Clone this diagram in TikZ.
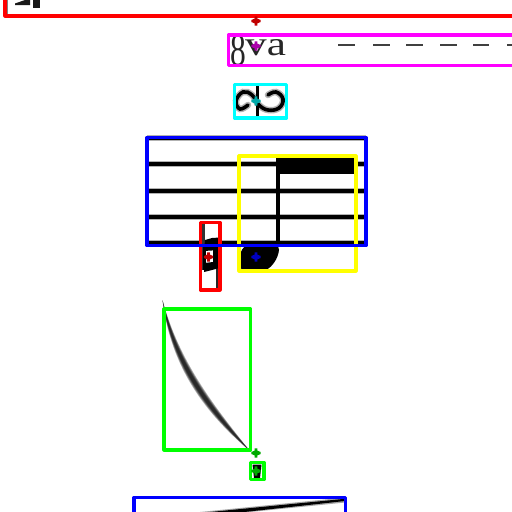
\documentclass[tikz,border=0pt]{standalone}
\usepackage{fontspec}
\setmainfont{Liberation Serif}
\definecolor{mgreen}{RGB}{0,255,0}
\definecolor{mblue}{RGB}{0,0,255}
\definecolor{mred}{RGB}{255,0,0}
\definecolor{mmag}{RGB}{255,0,255}
\definecolor{mcyan}{RGB}{0,255,255}
\definecolor{myel}{RGB}{255,255,0}
\definecolor{kred}{RGB}{192,0,0}
\definecolor{kmag}{RGB}{170,0,170}
\definecolor{kteal}{RGB}{0,170,170}
\definecolor{kblue}{RGB}{0,0,192}
\definecolor{kgreen}{RGB}{0,170,0}
\tikzset{
  bbox/.style={draw=#1,line width=3.2pt,line join=round},
  halo/.style={draw=black!30,line width=6.5pt},
  ink/.style={draw=black,line width=3.6pt},
  dashmark/.style={draw=black!75,line width=2.4pt},
  scoretext/.style={inner sep=0pt,text=black!85,font=\fontsize{42}{42}\selectfont},
}
\newcommand{\mk}[3]{%
  \fill[#1] (#2-1.3,#3-4.7) -- (#2+1.3,#3-4.7) -- (#2+1.3,#3-2.4) -- (#2+4.7,#3-1) -- (#2+4.7,#3+1) -- (#2+1.3,#3+2.4) -- (#2+1.3,#3+4.7) -- (#2-1.3,#3+4.7) -- (#2-1.3,#3+2.4) -- (#2-4.7,#3+1) -- (#2-4.7,#3-1) -- (#2-1.3,#3-2.4) -- cycle;}
\begin{document}
\begin{tikzpicture}[x=1pt,y=-1pt]
\useasboundingbox (0,0) rectangle (512,512);
\clip (0,0) rectangle (512,512);
\fill[white] (0,0) rectangle (512,512);

% top fragment
\draw[black!50,line width=1.8pt] (7,0) -- (7,15);
\fill[black!90] (15,5) -- (15,3.5) -- (25,0) -- (30,0) -- (30,5) -- cycle;
\fill[black!90] (33,0) rectangle (40,8);

% 8va and dashes
\node[scoretext,anchor=base west,xscale=.75,yscale=1.08] (eight) at (230,65) {8};
\node[scoretext,anchor=base west,xscale=1.03,yscale=.81] (va) at (245,55) {va};
\foreach \a/\b in {338/355,373/390,406/423,440/457,473/489,507/524}
  \draw[dashmark] (\a,45) -- (\b,45);

% turn
\foreach \s in {halo,ink}{
  \draw[\s,line cap=round] plot[smooth,tension=.7] coordinates {(248,105) (240,109) (236,101) (243,92) (252,95) (259,105) (268,110) (279,108) (283,99) (276,92) (268,95)};
  \draw[\s,line width=2.4pt] (257.5,85) -- (257.5,117);
}

% staff
\foreach \y in {138,164,191,217,243}{
  \draw[halo] (147,\y) -- (366,\y);
  \draw[ink] (147,\y) -- (366,\y);
}
\draw[black,line width=4pt] (277.5,156) -- (277.5,246);
\fill[black] (276,157) rectangle (354,174);
\fill[black] (240,268) -- (240,254) .. controls (242,248) and (247,243) .. (252,242)
  -- (277,241.5) -- (279,250) .. controls (278,259) and (272,267) .. (266,270) -- (244,270) -- cycle;

% natural sign
\draw[black!80,line width=2.4pt] (203.5,222) -- (203.5,270);
\draw[black!85,line width=3.4pt] (218,238) -- (218,290);
\fill[black] (205,240) -- (212,238) -- (219.5,237.5) -- (219.5,250) -- (204,251) -- cycle;
\fill[black] (204,263) -- (213,262) -- (219.5,260) -- (219.5,268) -- (212,270) -- (204,272) -- cycle;
\fill[black] (202.5,245) rectangle (205.5,270);
\fill[black] (213,248) rectangle (219.5,266);

% long slur
\foreach \d in {5.6,4.6,3.7,2.9,2.1}
  \fill[black,fill opacity=.3] (162.5,300) .. controls (175+.7*\d,365-.7*\d) and (210+.7*\d,410-.7*\d) .. (250,451)
    .. controls (210-.7*\d,410+.7*\d) and (175-.7*\d,365+.7*\d) .. cycle;

% small wedge
\fill[black] (252.5,464.5) -- (261.5,464.5) -- (260,478) -- (254,478) -- cycle;

% bottom wedge
\fill[black!35] (345,497.5) -- (345,502.5) -- (240,513) -- (190,513) -- cycle;
\fill[black] (345,498.8) -- (345,501) -- (235,513) -- (200,513) -- cycle;

% boxes
\draw[bbox=mred] (5,-10) -- (5,16) -- (530,16);
\draw[bbox=mmag] (530,35) -- (228.5,35) -- (228.5,65.5) -- (530,65.5);
\draw[bbox=mcyan] (234.5,84.5) rectangle (286.5,118);
\draw[bbox=mred] (200.5,222.5) rectangle (220,290);
\draw[bbox=myel] (239,156) rectangle (356,271);
\draw[bbox=mblue] (147,137.5) rectangle (366,245.5);
\draw[bbox=mgreen] (164,309) rectangle (250.5,450);
\draw[bbox=mgreen] (250.5,462.5) rectangle (264,479.5);
\draw[bbox=mblue] (134,530) -- (134,497.5) -- (345.5,497.5) -- (345.5,530);

% markers
\mk{kred}{256}{21}
\mk{kmag}{256}{46}
\mk{kteal}{256}{101}
\mk{kred}{208.5}{257}
\mk{kblue}{256}{257}
\mk{kgreen}{256}{453}
\mk{kgreen}{256}{471}
\end{tikzpicture}
\end{document}
